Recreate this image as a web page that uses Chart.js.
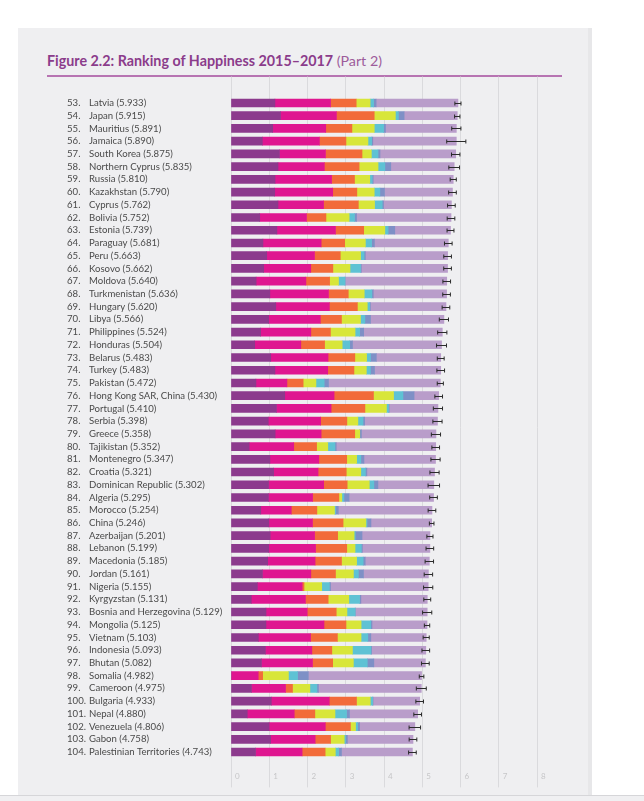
<!DOCTYPE html>
<html>
<head>
<meta charset="utf-8">
<title>Ranking of Happiness 2015–2017 (Part 2)</title>
<script src="https://cdn.jsdelivr.net/npm/chart.js@4.4.1/dist/chart.umd.min.js"></script>
<style>
  html, body { margin: 0; padding: 0; background: #fff; }
  body { width: 644px; height: 801px; position: relative; overflow: hidden; font-family: Lato, sans-serif; }
  .panel { position: absolute; left: 18px; top: 28px; width: 570px; height: 767px; background: #efeff1; border-right: 4px solid #e7e7e9; }
  .floor { position: absolute; left: 0; top: 795px; width: 644px; height: 6px; background: #f0f0f2; border-top: 1px solid #d6d6d9; }
  .title { position: absolute; left: 47px; top: 52px; font-size: 14.3px; font-weight: 700; color: #8b3c8b; white-space: nowrap; }
  .title span { font-weight: 400; color: #9d5c9b; }
  .rule { position: absolute; left: 47px; top: 75px; width: 515px; height: 2px; background: #b774b2; }
  #chart { position: absolute; left: 0; top: 0; }
</style>
</head>
<body>
<div class="panel"></div>
<div class="floor"></div>
<div class="title">Figure 2.2: Ranking of Happiness 2015–2017 <span>(Part 2)</span></div>
<div class="rule"></div>
<canvas id="chart" width="644" height="801"></canvas>
<script>
// data
const ranks = [53, 54, 55, 56, 57, 58, 59, 60, 61, 62, 63, 64, 65, 66, 67, 68, 69, 70, 71, 72, 73, 74, 75, 76, 77, 78,
  79, 80, 81, 82, 83, 84, 85, 86, 87, 88, 89, 90, 91, 92, 93, 94, 95, 96, 97, 98, 99, 100, 101, 102, 103, 104];
const countries = ["Latvia", "Japan", "Mauritius", "Jamaica", "South Korea", "Northern Cyprus", "Russia", "Kazakhstan",
  "Cyprus", "Bolivia", "Estonia", "Paraguay", "Peru", "Kosovo", "Moldova", "Turkmenistan", "Hungary", "Libya",
  "Philippines", "Honduras", "Belarus", "Turkey", "Pakistan", "Hong Kong SAR, China", "Portugal", "Serbia", "Greece",
  "Tajikistan", "Montenegro", "Croatia", "Dominican Republic", "Algeria", "Morocco", "China", "Azerbaijan", "Lebanon",
  "Macedonia", "Jordan", "Nigeria", "Kyrgyzstan", "Bosnia and Herzegovina", "Mongolia", "Vietnam", "Indonesia",
  "Bhutan", "Somalia", "Cameroon", "Bulgaria", "Nepal", "Venezuela", "Gabon", "Palestinian Territories"];
const scores = [5.933, 5.915, 5.891, 5.890, 5.875, 5.835, 5.810, 5.790, 5.762, 5.752, 5.739, 5.681, 5.663, 5.662,
  5.640, 5.636, 5.620, 5.566, 5.524, 5.504, 5.483, 5.483, 5.472, 5.430, 5.410, 5.398, 5.358, 5.352, 5.347, 5.321,
  5.302, 5.295, 5.254, 5.246, 5.201, 5.199, 5.185, 5.161, 5.155, 5.131, 5.129, 5.125, 5.103, 5.093, 5.082, 4.982,
  4.975, 4.933, 4.880, 4.806, 4.758, 4.743];

const gdp = [1.148, 1.294, 1.090, 0.819, 1.266, 1.229, 1.151, 1.143, 1.229, 0.751, 1.200, 0.835, 0.934, 0.855, 0.657,
  1.016, 1.171, 0.985, 0.775, 0.620, 1.039, 1.148, 0.652, 1.405, 1.188, 0.975, 1.154, 0.474, 1.017, 1.115, 0.982,
  0.979, 0.779, 0.989, 1.024, 0.987, 0.959, 0.822, 0.689, 0.530, 0.915, 0.914, 0.715, 0.899, 0.796, 0.000, 0.535,
  1.054, 0.425, 0.996, 1.036, 0.642];
const social = [1.454, 1.462, 1.387, 1.493, 1.204, 1.211, 1.479, 1.516, 1.191, 1.223, 1.532, 1.522, 1.249, 1.230, 1.301,
  1.533, 1.401, 1.350, 1.312, 1.205, 1.498, 1.380, 0.810, 1.290, 1.429, 1.369, 1.202, 1.166, 1.279, 1.161, 1.441,
  1.154, 0.797, 1.142, 1.161, 1.224, 1.239, 1.265, 1.172, 1.416, 1.078, 1.517, 1.365, 1.215, 1.335, 0.712, 0.891,
  1.515, 1.228, 1.469, 1.164, 1.217];
const health = [0.671, 0.988, 0.684, 0.693, 0.955, 0.909, 0.599, 0.631, 0.909, 0.508, 0.737, 0.615, 0.674, 0.578, 0.620,
  0.517, 0.732, 0.553, 0.513, 0.622, 0.700, 0.686, 0.424, 1.030, 0.884, 0.685, 0.879, 0.598, 0.729, 0.737, 0.614,
  0.687, 0.669, 0.799, 0.603, 0.815, 0.691, 0.645, 0.048, 0.594, 0.758, 0.575, 0.702, 0.522, 0.527, 0.115, 0.182,
  0.712, 0.539, 0.657, 0.404, 0.602];
const freedom = [0.363, 0.553, 0.584, 0.575, 0.244, 0.495, 0.399, 0.454, 0.423, 0.606, 0.553, 0.541, 0.530, 0.448, 0.232,
  0.417, 0.259, 0.496, 0.643, 0.459, 0.307, 0.324, 0.334, 0.524, 0.562, 0.288, 0.131, 0.292, 0.259, 0.380, 0.578,
  0.077, 0.460, 0.597, 0.430, 0.216, 0.394, 0.468, 0.462, 0.540, 0.280, 0.395, 0.618, 0.538, 0.541, 0.674, 0.454,
  0.359, 0.526, 0.133, 0.356, 0.266];
const generosity = [0.092, 0.079, 0.245, 0.096, 0.175, 0.179, 0.065, 0.148, 0.202, 0.141, 0.086, 0.162, 0.092, 0.274,
  0.171, 0.199, 0.061, 0.116, 0.120, 0.197, 0.101, 0.106, 0.216, 0.246, 0.055, 0.134, 0.000, 0.187, 0.111, 0.120,
  0.120, 0.055, 0.026, 0.029, 0.031, 0.166, 0.173, 0.130, 0.201, 0.281, 0.216, 0.253, 0.177, 0.484, 0.364, 0.238,
  0.183, 0.064, 0.302, 0.056, 0.032, 0.086];
const corruption = [0.066, 0.150, 0.050, 0.031, 0.051, 0.154, 0.025, 0.121, 0.035, 0.054, 0.174, 0.074, 0.034, 0.023,
  0.000, 0.037, 0.022, 0.148, 0.105, 0.074, 0.154, 0.109, 0.113, 0.291, 0.017, 0.043, 0.044, 0.034, 0.081, 0.039,
  0.106, 0.135, 0.074, 0.103, 0.176, 0.027, 0.052, 0.134, 0.032, 0.035, 0.000, 0.032, 0.079, 0.018, 0.171, 0.282,
  0.043, 0.009, 0.078, 0.052, 0.052, 0.076];
const dystopia = [2.139, 1.389, 1.851, 2.183, 1.980, 1.658, 2.092, 1.777, 1.773, 2.469, 1.457, 1.932, 2.150, 2.254,
  2.659, 1.917, 1.974, 1.918, 2.056, 2.327, 1.684, 1.730, 2.923, 0.644, 1.275, 1.904, 1.948, 2.601, 1.871, 1.769,
  1.461, 2.208, 2.449, 1.587, 1.776, 1.764, 1.677, 1.697, 2.551, 1.735, 1.882, 1.439, 1.447, 1.417, 1.348, 2.961,
  2.687, 1.220, 1.782, 1.443, 1.714, 1.854];

// 95% confidence interval
const ciLow = [5.853, 5.845, 5.771, 5.640, 5.765, 5.695, 5.730, 5.690, 5.662, 5.652, 5.649, 5.581, 5.563, 5.562,
  5.540, 5.536, 5.520, 5.446, 5.404, 5.374, 5.393, 5.383, 5.392, 5.330, 5.290, 5.278, 5.238, 5.252, 5.227, 5.201,
  5.152, 5.195, 5.154, 5.186, 5.121, 5.099, 5.075, 5.051, 5.035, 5.041, 5.009, 5.055, 5.023, 4.993, 4.982, 4.922,
  4.845, 4.833, 4.780, 4.656, 4.658, 4.643];
const ciHigh = [6.013, 5.985, 6.011, 6.140, 5.985, 5.975, 5.890, 5.890, 5.862, 5.852, 5.829, 5.781, 5.763, 5.762,
  5.740, 5.736, 5.720, 5.686, 5.644, 5.634, 5.573, 5.583, 5.552, 5.530, 5.530, 5.518, 5.478, 5.452, 5.467, 5.441,
  5.452, 5.395, 5.354, 5.306, 5.281, 5.299, 5.295, 5.271, 5.275, 5.221, 5.249, 5.195, 5.183, 5.193, 5.182, 5.042,
  5.105, 5.033, 4.980, 4.956, 4.858, 4.843];

const xMin = 0, xMax = 8;

const series = [
  { label: "GDP per capita", data: gdp, color: "#8c3a8d" },
  { label: "Social support", data: social, color: "#df1690" },
  { label: "Healthy life expectancy", data: health, color: "#f26b3a" },
  { label: "Freedom to make life choices", data: freedom, color: "#d8e63a" },
  { label: "Generosity", data: generosity, color: "#5ec2d4" },
  { label: "Perceptions of corruption", data: corruption, color: "#7e90c6" },
  { label: "Dystopia (1.92) + residual", data: dystopia, color: "#b99dca" },
];

const labels = countries.map((c, i) => `${c} (${scores[i].toFixed(3)})`);

const whiskers = {
  id: "whiskers",
  afterDatasetsDraw(chart) {
    const { ctx } = chart, x = chart.scales.x, y = chart.scales.y;
    ctx.save();
    ctx.strokeStyle = "#2b2b2b";
    ctx.lineWidth = 1;
    ciLow.forEach((lo, i) => {
      const yy = Math.round(y.getPixelForValue(i)) + 0.5,
        x1 = x.getPixelForValue(lo),
        x2 = x.getPixelForValue(ciHigh[i]);
      ctx.beginPath();
      ctx.moveTo(x1, yy);
      ctx.lineTo(x2, yy);
      ctx.moveTo(x1, yy - 2);
      ctx.lineTo(x1, yy + 2);
      ctx.moveTo(x2, yy - 2);
      ctx.lineTo(x2, yy + 2);
      ctx.stroke();
    });
    ctx.restore();
  },
};

Chart.defaults.font.family = "Lato, sans-serif";

const config = {
  type: "bar",
  data: {
    labels: labels,
    datasets: series.map((s) => ({
      label: s.label,
      data: s.data,
      backgroundColor: s.color,
      borderWidth: 0,
      barThickness: 8,
      yAxisID: "y",
    })),
  },
  options: {
    indexAxis: "y",
    responsive: false,
    animation: false,
    layout: { padding: { left: 67, right: 107, top: 77, bottom: 12.6 } },
    plugins: { legend: { display: false }, tooltip: { enabled: false } },
    scales: {
      x: {
        type: "linear",
        position: "bottom",
        stacked: true,
        min: xMin,
        max: xMax,
        border: { display: false },
        grid: { color: "#dadadd", lineWidth: 1, tickLength: 29 },
        ticks: {
          stepSize: 1,
          align: "start",
          padding: -16,
          color: "#c6c6c8",
          font: { size: 8 },
          callback: (v) => "  " + v,
        },
        afterFit: (scale) => { scale.height = 30; },
      },
      x2: {
        type: "linear",
        position: "top",
        min: xMin,
        max: xMax,
        border: { display: false },
        grid: { color: "#dadadd", drawOnChartArea: false, tickLength: 20 },
        ticks: { stepSize: 1, display: false },
        afterFit: (scale) => { scale.height = 19.6; },
      },
      rank: {
        type: "category",
        position: "left",
        weight: 1,
        labels: ranks.map((r) => r + "."),
        offset: true,
        border: { display: false },
        grid: { display: false },
        ticks: { crossAlign: "far", padding: 0, color: "#4a4a4a", font: { size: 9.6 }, autoSkip: false },
        afterFit: (scale) => { scale.width = 22; },
      },
      y: {
        type: "category",
        position: "left",
        weight: 0,
        stacked: true,
        offset: true,
        border: { display: false },
        grid: { display: false },
        ticks: { crossAlign: "far", padding: 0, color: "#4a4a4a", font: { size: 9.6 }, autoSkip: false },
        afterFit: (scale) => { scale.width = 142; },
      },
    },
  },
  plugins: [whiskers],
};

new Chart(document.getElementById("chart"), config);
</script>
</body>
</html>
